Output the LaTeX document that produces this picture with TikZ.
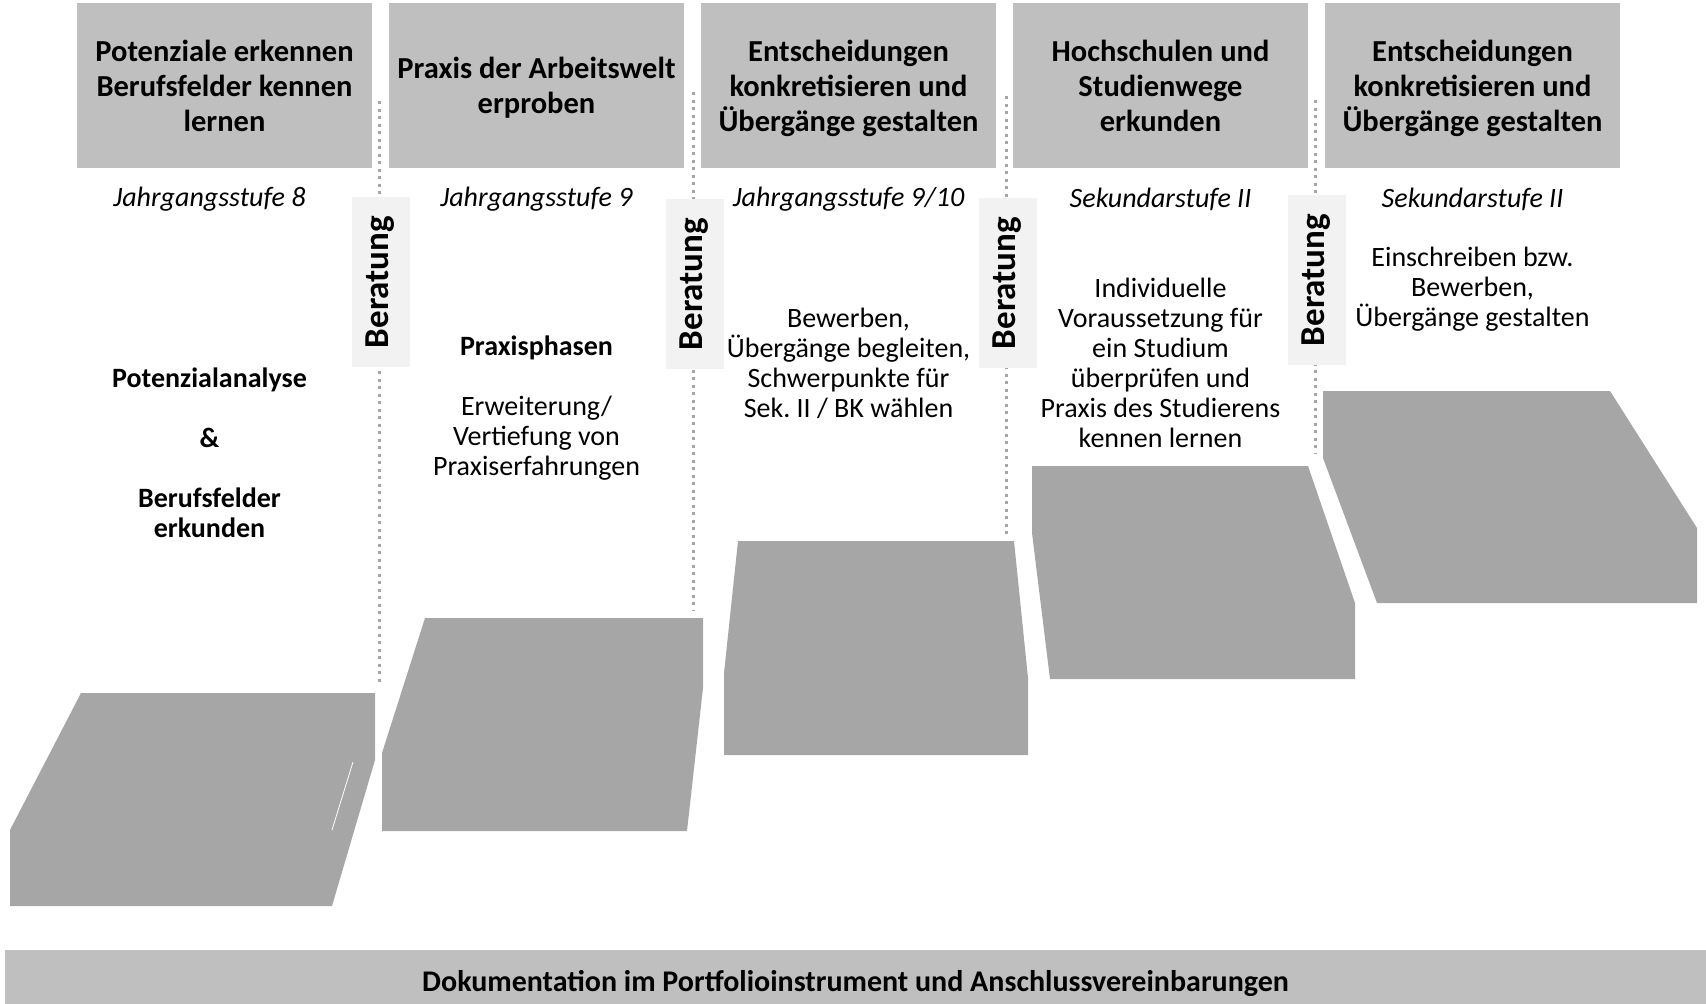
\documentclass[tikz,border=0pt]{standalone}
\usepackage{fontspec}
\setmainfont{Carlito}
\usetikzlibrary{positioning}
\definecolor{kopfgrau}{HTML}{BFBFBF}
\definecolor{stufengrau}{HTML}{A6A6A6}
\definecolor{beratungsgrau}{HTML}{F2F2F2}
\definecolor{punktgrau}{HTML}{A6A6A6}
\frenchspacing

\begin{document}
\begin{tikzpicture}[x=1pt, y=-1pt, node distance=114pt and 312pt, on grid,
kopf/.style={fill=kopfgrau, minimum width=295pt, minimum height=165pt,
  align=center, inner sep=0pt, text depth=0pt,
  font=\fontsize{30.5}{35}\selectfont\bfseries},
jahrgang/.style={font=\fontsize{28}{30}\selectfont\itshape},
inhalt/.style={align=center, font=\fontsize{28}{30}\selectfont},
beratung/.style={fill=beratungsgrau, rotate=90, minimum width=170pt,
  minimum height=58pt, inner sep=0pt, font=\fontsize{35}{40}\selectfont\bfseries},
punktlinie/.style={draw=punktgrau, line width=3pt, dash pattern=on 3pt off 4.5pt},
treppe/.style={fill=stufengrau},
leiste/.style={fill=kopfgrau, minimum width=1701pt, minimum height=54pt,
  text height=29pt, text depth=0pt, font=\fontsize{30}{32}\selectfont\bfseries}]
\useasboundingbox (0,0) rectangle (1706,1004);

% Stufen
\fill[treppe] (81,693) -- (375,693) -- (375,760) -- (332,906) -- (10,906) -- (10,830) -- cycle;
\draw[white, line width=0.8pt] (353,762) -- (332,830);
\fill[treppe] (425,618) -- (703,618) -- (703,688) -- (687,831) -- (382,831) -- (382,753) -- cycle;
\fill[treppe] (738,541) -- (1014,541) -- (1028,678) -- (1028,755) -- (724,755) -- (724,673) -- cycle;
\fill[treppe] (1032,466) -- (1308,466) -- (1355,603) -- (1355,679) -- (1050,679) -- (1032,533) -- cycle;
\fill[treppe] (1323,391) -- (1610,391) -- (1697,528) -- (1697,603) -- (1377,603) -- (1323,458) -- cycle;

% Kopfzeile
\node[kopf] (kopf1) at (224.5,85.5) {Potenziale erkennen\\Berufsfelder kennen\\lernen};
\node[kopf] (kopf2) [right=of kopf1] {Praxis der Arbeitswelt\\erproben};
\node[kopf] (kopf3) [right=of kopf2] {Entscheidungen\\konkretisieren und\\Übergänge gestalten};
\node[kopf] (kopf4) [right=of kopf3] {Hochschulen und\\Studienwege\\erkunden};
\node[kopf] (kopf5) [right=of kopf4] {Entscheidungen\\konkretisieren und\\Übergänge gestalten};

\node[jahrgang] (jg1) [below=of kopf1, xshift=-15pt] {Jahrgangsstufe 8};
\node[jahrgang] (jg2) [below=of kopf2] {Jahrgangsstufe 9};
\node[jahrgang] (jg3) [below=of kopf3] {Jahrgangsstufe 9/10};
\node[jahrgang] (jg4) [below=of kopf4] {Sekundarstufe II};
\node[jahrgang] (jg5) [below=of kopf5] {Sekundarstufe II};

% Inhalte
\node[inhalt, font=\fontsize{28}{30}\selectfont\bfseries] (inh1) [below=253pt of jg1]
  {Potenzialanalyse\\[30pt]\&\\[30pt]Berufsfelder\\erkunden};
\node[inhalt] (inh2) [below=209pt of jg2]
  {\textbf{Praxisphasen}\\[30pt]Erweiterung/\\Vertiefung von\\Praxiserfahrungen};
\node[inhalt] (inh3) [below=164pt of jg3]
  {Bewerben,\\Übergänge begleiten,\\Schwerpunkte für\\Sek. II / BK wählen};
\node[inhalt] (inh4) [below=163pt of jg4]
  {Individuelle\\Voraussetzung für\\ein Studium\\überprüfen und\\Praxis des Studierens\\kennen lernen};
\node[inhalt] (inh5) [below=90pt of jg5]
  {Einschreiben bzw.\\Bewerben,\\Übergänge gestalten};

% Beratung
\coordinate (b1o) at (379,101);    \coordinate (b1u) at (379,683);
\coordinate (b2o) at (693.5,92);   \coordinate (b2u) at (693.5,610);
\coordinate (b3o) at (1006.5,96);  \coordinate (b3u) at (1006.5,534);
\coordinate (b4o) at (1315.5,100); \coordinate (b4u) at (1315.5,453);
\draw[punktlinie] (b1o) -- (b1u);
\draw[punktlinie] (b2o) -- (b2u);
\draw[punktlinie] (b3o) -- (b3u);
\draw[punktlinie] (b4o) -- (b4u);
\node[beratung] (ber1) at (380.5,282) {Beratung};
\node[beratung] (ber2) at (694.5,284) {Beratung};
\node[beratung] (ber3) at (1007.5,283) {Beratung};
\node[beratung] (ber4) at (1316.5,280) {Beratung};

% Fusszeile
\node[leiste] (doku) at (855.5,977) {Dokumentation im Portfolioinstrument und Anschlussvereinbarungen};
\end{tikzpicture}
\end{document}
